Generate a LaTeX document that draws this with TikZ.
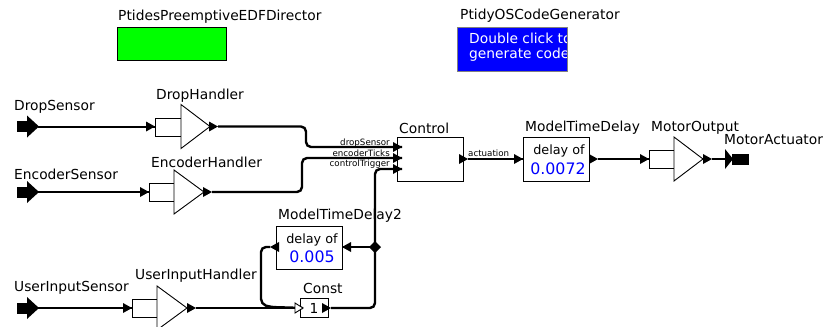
\documentclass[tikz,border=0pt]{standalone}
\usepackage{fontspec}
\setmainfont{DejaVu Sans}
\definecolor{dirgreen}{RGB}{0,255,0}
\definecolor{cgblue}{RGB}{0,0,255}
\definecolor{valblue}{RGB}{0,0,255}
\begin{document}
\begin{tikzpicture}[x=1pt,y=-1pt,
  lbl/.style={anchor=base west, inner sep=0pt, font=\fontsize{13.8}{16}\selectfont},
  plbl/.style={anchor=base east, inner sep=0pt, font=\fontsize{8.7}{10}\selectfont},
  inner/.style={anchor=base, inner sep=0pt, font=\fontsize{12.8}{15}\selectfont},
  value/.style={anchor=base, inner sep=0pt, text=valblue, font=\fontsize{15.8}{18}\selectfont},
  wire/.style={line width=2.4pt, rounded corners=5pt},
  actor/.style={draw, line width=0.9pt, fill=white, inner sep=0pt},
  boxactor/.style={draw, line width=0.9pt, fill=white, inner sep=0pt, anchor=north west},
  pics/rtip/.style={code={\fill (0,0) -- (-9,-5) -- (-9,5) -- cycle;}},
  pics/ltip/.style={code={\fill (0,0) -- (9,-5) -- (9,5) -- cycle;}},
  pics/opentip/.style={code={\draw[fill=white, line width=0.9pt] (0,0) -- (-8,-5) -- (-8,5) -- cycle;}},
  pics/sensor/.style={code={
    \fill (0,-5.5) rectangle (11,5.5);
    \fill (10,-11) -- (22,0) -- (10,11) -- cycle;}},
  pics/actuator/.style={code={
    \fill (0,-10) -- (8,0) -- (0,10) -- cycle;
    \fill (7,-5.5) rectangle (24,5.5);}}
]
\useasboundingbox (0,0) rectangle (823,327);

% ---------- director and code generator ----------
\node[lbl] (dirlbl) at (118,20) {PtidesPreemptiveEDFDirector};
\node[draw, line width=1.2pt, fill=dirgreen, inner sep=0pt, anchor=north west,
      minimum width=109pt, minimum height=33pt] (director) at (117,27) {};

\node[lbl] (cglbl) at (460,19) {PtidyOSCodeGenerator};
\node[draw=gray, line width=0.8pt, fill=cgblue, inner sep=0pt, anchor=north west,
      minimum width=110pt, minimum height=44pt] (codegen) at (457,27) {};
\begin{scope}
  \clip (457,27) rectangle (566.5,71);
  \node[lbl, text=white] (cgtxt1) at (469,43) {Double click to};
  \node[lbl, text=white] (cgtxt2) at (469,58) {generate code};
\end{scope}

% ---------- sensors ----------
\node[lbl] (dslbl) at (14,110) {DropSensor};
\pic at (17,126.5) {sensor};
\coordinate (ds-out) at (38,126.5);

\node[lbl] (eslbl) at (14,179) {EncoderSensor};
\pic at (17,192) {sensor};
\coordinate (es-out) at (38,192);

\node[lbl] (uslbl) at (14,291) {UserInputSensor};
\pic at (17,308) {sensor};
\coordinate (us-out) at (38,308);

% ---------- handlers (composite actors) ----------
\node[lbl] (dhlbl) at (156,99) {DropHandler};
\node[boxactor, minimum width=26pt, minimum height=18pt] (dh-box) at (155,117.5) {};
\draw[actor] (181,104.5) -- (210,126.5) -- (181,148.5) -- cycle;
\coordinate (dh-in) at (155,126.5);
\coordinate (dh-out) at (218,126.5);
\pic at (dh-out) {rtip};

\node[lbl] (ehlbl) at (151,167) {EncoderHandler};
\node[boxactor, minimum width=25pt, minimum height=18pt] (eh-box) at (149,183) {};
\draw[actor] (174,170) -- (204,192) -- (174,214) -- cycle;
\coordinate (eh-in) at (149,192);
\coordinate (eh-out) at (212,192);
\pic at (eh-out) {rtip};

\node[lbl] (uhlbl) at (135,279) {UserInputHandler};
\node[boxactor, minimum width=25pt, minimum height=18pt] (uh-box) at (132,299) {};
\draw[actor] (157,286) -- (187,308) -- (157,330) -- cycle;
\coordinate (uh-in) at (132,308);
\coordinate (uh-out) at (196,308);
\pic at (uh-out) {rtip};

% ---------- Control ----------
\node[lbl] (ctllbl) at (399,133) {Control};
\node[boxactor, minimum width=66pt, minimum height=44pt] (control) at (397,137) {};
\coordinate (ctl-drop) at (402,147);
\coordinate (ctl-enc) at (402,158);
\coordinate (ctl-trig) at (402,169);
\coordinate (ctl-out) at (468,159);
\node[plbl] (p1) at (390,145) {dropSensor};
\node[plbl] (p2) at (390,156) {encoderTicks};
\node[plbl] (p3) at (390,166.5) {controlTrigger};
\node[anchor=base west, inner sep=0pt, font=\fontsize{8.7}{10}\selectfont] (p4) at (468,156) {actuation};

% ---------- ModelTimeDelay ----------
\node[lbl] (mtdlbl) at (525,131) {ModelTimeDelay};
\node[boxactor, minimum width=66pt, minimum height=44pt] (mtd) at (523,137) {};
\node[inner] (mtdt1) at (559,154) {delay of};
\node[value] (mtdt2) at (558,174) {0.0072};
\coordinate (mtd-in) at (523,159);
\coordinate (mtd-out) at (598,159);

% ---------- MotorOutput / MotorActuator ----------
\node[lbl] (molbl) at (651,131) {MotorOutput};
\node[boxactor, minimum width=25pt, minimum height=18pt] (mo-box) at (649,150) {};
\draw[actor] (674,137) -- (703,159) -- (674,181) -- cycle;
\coordinate (mo-in) at (649,159);
\coordinate (mo-out) at (712,159);
\pic at (mo-out) {rtip};

\node[lbl] (malbl) at (724,144) {MotorActuator};
\pic at (725,159) {actuator};
\coordinate (ma-in) at (725,159);

% ---------- ModelTimeDelay2 ----------
\node[lbl] (mtd2lbl) at (278,219) {ModelTimeDelay2};
\node[boxactor, minimum width=66pt, minimum height=43pt] (mtd2) at (276,226) {};
\node[inner] (mtd2t1) at (312,243) {delay of};
\node[value] (mtd2t2) at (312,262) {0.005};
\coordinate (mtd2-in) at (342,247);
\coordinate (mtd2-out) at (270,247);
\pic at (mtd2-out) {ltip};

% ---------- Const ----------
\node[lbl] (constlbl) at (303,293) {Const};
\node[boxactor, minimum width=28pt, minimum height=19pt] (const) at (300,298) {};
\node[anchor=center, inner sep=0pt, font=\fontsize{13.8}{16}\selectfont] (constval) at (314,308) {1};
\coordinate (const-trig) at (303,308);
\coordinate (const-out) at (331,308);
\pic at (const-out) {rtip};

% ---------- relation ----------
\coordinate (rel) at (375,247);

% ---------- connectors ----------
\draw[wire, line width=2pt] (ds-out) -- (dh-in);
\draw[wire, line width=2pt] (es-out) -- (eh-in);
\draw[wire, line width=2pt] (us-out) -- (uh-in);
\draw[wire] (dh-out) -- (306,126.5) -- (306,147) -- (ctl-drop);
\draw[wire] (eh-out) -- (302,192) -- (302,158) -- (ctl-enc);
\draw[wire] (uh-out) -- (const-trig);
\draw[wire] (const-out) -- (375,308) -- (rel);
\draw[wire] (rel) -- (375,169) -- (ctl-trig);
\draw[wire] (rel) -- (mtd2-in);
\draw[wire] (mtd2-out) -- (261,247) -- (261,304) -- (270,307) -- (const-trig);
\draw[wire] (ctl-out) -- (mtd-in);
\draw[wire] (mtd-out) -- (mo-in);
\draw[wire] (mo-out) -- (ma-in);

% arrowheads at input ports
\pic at (dh-in) {rtip};
\pic at (eh-in) {rtip};
\pic at (uh-in) {rtip};
\pic at (ctl-drop) {rtip};
\pic at (ctl-enc) {rtip};
\pic at (ctl-trig) {rtip};
\pic at (mtd-in) {rtip};
\pic at (mo-in) {rtip};
\pic at (mtd2-in) {ltip};
\pic at (const-trig) {opentip};
\pic at (ctl-out) {rtip};
\pic at (mtd-out) {rtip};
\fill (rel) ++(0,-6) -- ++(6,6) -- ++(-6,6) -- ++(-6,-6) -- cycle;
\end{tikzpicture}
\end{document}
